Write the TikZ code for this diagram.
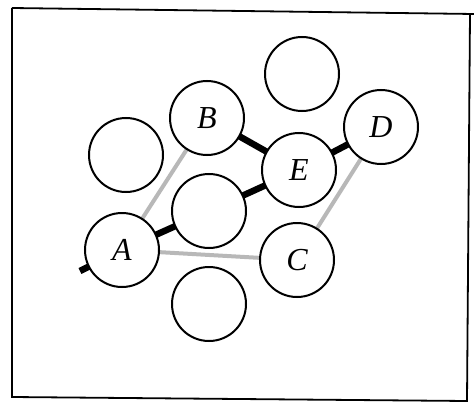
\documentclass[tikz,border=0pt]{standalone}
\usepackage{fontspec}
\setmainfont{Liberation Serif}
\begin{document}
\begin{tikzpicture}[x=1pt,y=-1pt,
  site/.style={circle,draw=black,line width=2pt,fill=white,minimum size=74pt,inner sep=0pt,font=\fontsize{32}{32}\selectfont\itshape},
  heavy/.style={line width=6.5pt,black},
  light/.style={line width=4pt,color=black!28}]
\useasboundingbox (0,0) rectangle (474,404);
\draw[line width=1.8pt] (12,8) -- (474,14);
\draw[line width=1.8pt] (12,8) -- (12,397) -- (467,401) -- (470,14);
% coordinates
\coordinate (start) at (80,271);
\coordinate (pA) at (122,250);
\coordinate (pB) at (207,118);
\coordinate (pC) at (297,260);
\coordinate (pD) at (381,127);
\coordinate (pE) at (299,170);
\coordinate (pM) at (209,211);
% connectors
\draw[light] (pA) -- (pB);
\draw[light] (pA) -- (pC);
\draw[light] (pC) -- (pD);
\draw[heavy] (start) -- (pA);
\draw[heavy] (pA) -- (pM);
\draw[heavy] (pM) -- (pE);
\draw[heavy] (pB) -- (pE);
\draw[heavy] (pE) -- (pD);
% sites
\node[site] (top) at (302,74) {};
\node[site] (left) at (126,155) {};
\node[site] (bottom) at (209,304) {};
\node[site] (M) at (pM) {};
\node[site] (A) at (pA) {A};
\node[site] (B) at (pB) {B};
\node[site] (C) at (pC) {C};
\node[site] (D) at (pD) {D};
\node[site] (E) at (pE) {E};
\end{tikzpicture}
\end{document}
